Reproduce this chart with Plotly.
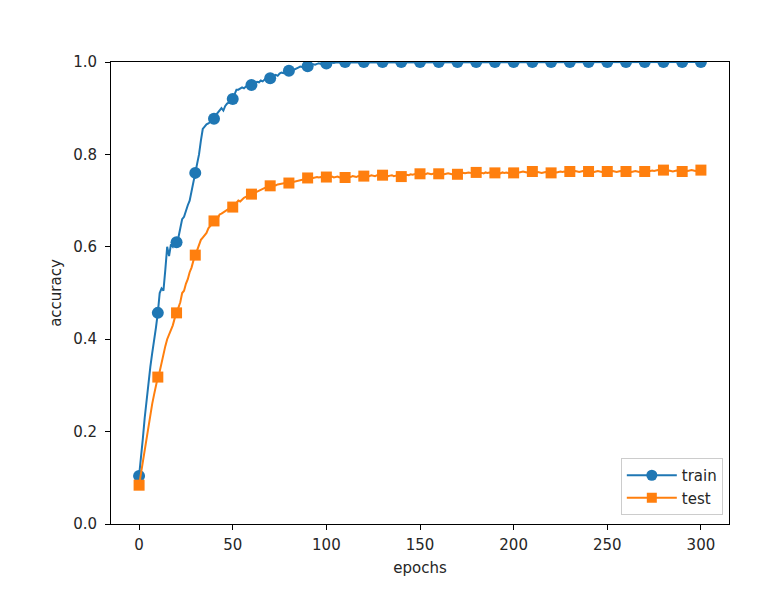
import plotly.graph_objects as go

# ---- data ----
train_acc = [
    0.104, 0.140, 0.185, 0.230, 0.270, 0.305, 0.340, 0.370, 0.395, 0.425,
    0.457, 0.500, 0.510, 0.505, 0.550, 0.600, 0.580, 0.605, 0.600, 0.610,
    0.610, 0.620, 0.640, 0.660, 0.665, 0.680, 0.690, 0.700, 0.720, 0.740,
    0.760, 0.780, 0.800, 0.830, 0.855, 0.860, 0.865, 0.867, 0.870, 0.872,
    0.877, 0.885, 0.890, 0.895, 0.900, 0.895, 0.905, 0.910, 0.912, 0.915,
    0.920, 0.930, 0.940, 0.940, 0.942, 0.945, 0.943, 0.947, 0.950, 0.948,
    0.950, 0.953, 0.955, 0.957, 0.956, 0.960, 0.958, 0.962, 0.963, 0.962,
    0.965, 0.968, 0.970, 0.972, 0.970, 0.975, 0.977, 0.976, 0.978, 0.980,
    0.981, 0.983, 0.985, 0.984, 0.987, 0.988, 0.990, 0.989, 0.990, 0.992,
    0.991, 0.993, 0.994, 0.995, 0.994, 0.996, 0.997, 0.996, 0.998, 0.997,
    0.997, 0.998, 0.998, 0.999, 0.998, 0.999, 0.999, 1.000, 0.999, 1.000,
    1.000, 1.000, 1.000, 1.000, 1.000, 1.000, 1.000, 1.000, 1.000, 1.000,
    1.000, 1.000, 1.000, 1.000, 1.000, 1.000, 1.000, 1.000, 1.000, 1.000,
    1.000, 1.000, 1.000, 1.000, 1.000, 1.000, 1.000, 1.000, 1.000, 1.000,
    1.000, 1.000, 1.000, 1.000, 1.000, 1.000, 1.000, 1.000, 1.000, 1.000,
    1.000, 1.000, 1.000, 1.000, 1.000, 1.000, 1.000, 1.000, 1.000, 1.000,
    1.000, 1.000, 1.000, 1.000, 1.000, 1.000, 1.000, 1.000, 1.000, 1.000,
    1.000, 1.000, 1.000, 1.000, 1.000, 1.000, 1.000, 1.000, 1.000, 1.000,
    1.000, 1.000, 1.000, 1.000, 1.000, 1.000, 1.000, 1.000, 1.000, 1.000,
    1.000, 1.000, 1.000, 1.000, 1.000, 1.000, 1.000, 1.000, 1.000, 1.000,
    1.000, 1.000, 1.000, 1.000, 1.000, 1.000, 1.000, 1.000, 1.000, 1.000,
    1.000, 1.000, 1.000, 1.000, 1.000, 1.000, 1.000, 1.000, 1.000, 1.000,
    1.000, 1.000, 1.000, 1.000, 1.000, 1.000, 1.000, 1.000, 1.000, 1.000,
    1.000, 1.000, 1.000, 1.000, 1.000, 1.000, 1.000, 1.000, 1.000, 1.000,
    1.000, 1.000, 1.000, 1.000, 1.000, 1.000, 1.000, 1.000, 1.000, 1.000,
    1.000, 1.000, 1.000, 1.000, 1.000, 1.000, 1.000, 1.000, 1.000, 1.000,
    1.000, 1.000, 1.000, 1.000, 1.000, 1.000, 1.000, 1.000, 1.000, 1.000,
    1.000, 1.000, 1.000, 1.000, 1.000, 1.000, 1.000, 1.000, 1.000, 1.000,
    1.000, 1.000, 1.000, 1.000, 1.000, 1.000, 1.000, 1.000, 1.000, 1.000,
    1.000, 1.000, 1.000, 1.000, 1.000, 1.000, 1.000, 1.000, 1.000, 1.000,
    1.000,
]

test_acc = [
    0.084, 0.110, 0.135, 0.160, 0.185, 0.210, 0.235, 0.260, 0.280, 0.300,
    0.318, 0.330, 0.350, 0.370, 0.385, 0.400, 0.410, 0.420, 0.430, 0.445,
    0.457, 0.470, 0.480, 0.500, 0.505, 0.520, 0.530, 0.545, 0.555, 0.570,
    0.582, 0.590, 0.605, 0.615, 0.620, 0.625, 0.630, 0.640, 0.645, 0.650,
    0.656, 0.660, 0.662, 0.670, 0.672, 0.675, 0.678, 0.680, 0.682, 0.684,
    0.686, 0.690, 0.695, 0.700, 0.698, 0.703, 0.706, 0.708, 0.710, 0.712,
    0.714, 0.716, 0.718, 0.720, 0.722, 0.724, 0.726, 0.727, 0.729, 0.730,
    0.732, 0.733, 0.734, 0.733, 0.735, 0.736, 0.736, 0.737, 0.738, 0.737,
    0.738, 0.740, 0.741, 0.742, 0.743, 0.744, 0.745, 0.746, 0.747, 0.748,
    0.749, 0.749, 0.750, 0.749, 0.750, 0.751, 0.750, 0.751, 0.750, 0.751,
    0.751, 0.752, 0.751, 0.752, 0.750, 0.751, 0.752, 0.750, 0.751, 0.752,
    0.750, 0.751, 0.752, 0.751, 0.753, 0.752, 0.751, 0.753, 0.752, 0.754,
    0.753, 0.752, 0.754, 0.753, 0.755, 0.754, 0.753, 0.755, 0.754, 0.756,
    0.755, 0.754, 0.755, 0.753, 0.754, 0.755, 0.753, 0.754, 0.755, 0.753,
    0.752, 0.754, 0.755, 0.756, 0.755, 0.757, 0.756, 0.757, 0.758, 0.757,
    0.758, 0.757, 0.758, 0.757, 0.759, 0.758, 0.757, 0.758, 0.759, 0.757,
    0.758, 0.759, 0.758, 0.757, 0.758, 0.759, 0.758, 0.757, 0.758, 0.759,
    0.757, 0.758, 0.759, 0.760, 0.759, 0.760, 0.761, 0.760, 0.759, 0.761,
    0.761, 0.760, 0.761, 0.760, 0.759, 0.761, 0.760, 0.761, 0.760, 0.761,
    0.760, 0.761, 0.760, 0.759, 0.761, 0.760, 0.761, 0.760, 0.759, 0.761,
    0.760, 0.761, 0.762, 0.761, 0.762, 0.763, 0.762, 0.761, 0.763, 0.762,
    0.763, 0.762, 0.761, 0.762, 0.761, 0.760, 0.761, 0.762, 0.761, 0.760,
    0.760, 0.761, 0.762, 0.761, 0.762, 0.763, 0.762, 0.763, 0.762, 0.764,
    0.763, 0.762, 0.763, 0.764, 0.763, 0.762, 0.763, 0.764, 0.763, 0.762,
    0.763, 0.764, 0.763, 0.762, 0.763, 0.764, 0.763, 0.762, 0.764, 0.763,
    0.763, 0.762, 0.763, 0.764, 0.763, 0.762, 0.763, 0.764, 0.763, 0.762,
    0.763, 0.764, 0.763, 0.762, 0.763, 0.764, 0.763, 0.762, 0.763, 0.764,
    0.763, 0.764, 0.765, 0.764, 0.765, 0.764, 0.765, 0.766, 0.765, 0.764,
    0.766, 0.765, 0.764, 0.765, 0.764, 0.763, 0.764, 0.765, 0.764, 0.763,
    0.763, 0.764, 0.765, 0.764, 0.765, 0.766, 0.765, 0.764, 0.765, 0.766,
    0.766,
]

epochs = list(range(len(train_acc)))
mark_every = 10
x_ticks = [0, 50, 100, 150, 200, 250, 300]
y_ticks = [0.0, 0.2, 0.4, 0.6, 0.8, 1.0]

BLUE = "#1f77b4"
ORANGE = "#ff7f0e"
FONT = "DejaVu Sans"
TXT = "#262626"
FS = 15

fig = go.Figure()

series = [
    ("train", train_acc, BLUE, "circle", 12),
    ("test", test_acc, ORANGE, "square", 11),
]
for name, vals, col, sym, size in series:
    fig.add_trace(go.Scatter(x=epochs, y=vals, mode="lines",
                             line=dict(color=col, width=2),
                             showlegend=False, hoverinfo="skip"))
    fig.add_trace(go.Scatter(x=epochs[::mark_every], y=vals[::mark_every],
                             mode="markers",
                             marker=dict(color=col, symbol=sym, size=size,
                                         line=dict(width=0)),
                             showlegend=False, cliponaxis=True))

for name, vals, col, sym, size in series:
    fig.add_trace(go.Scatter(x=[None], y=[None], mode="lines+markers", name=name,
                             line=dict(color=col, width=2),
                             marker=dict(color=col, symbol=sym, size=size - 1)))

axis_common = dict(showline=True, linecolor="black", linewidth=1, mirror=True,
                   ticks="outside", ticklen=5, tickwidth=1, tickcolor="black",
                   showgrid=False, zeroline=False,
                   tickfont=dict(family=FONT, size=FS, color=TXT))

fig.update_xaxes(range=[-15, 315], tickvals=x_ticks,
                 ticktext=[str(v) for v in x_ticks], ticklabelstandoff=2,
                 title=dict(text="epochs", font=dict(family=FONT, size=FS, color=TXT),
                            standoff=9),
                 **axis_common)
fig.update_yaxes(range=[0, 1], tickvals=y_ticks,
                 ticktext=[f"{v:.1f}" for v in y_ticks], ticklabelstandoff=5,
                 title=dict(text="accuracy", font=dict(family=FONT, size=FS, color=TXT),
                            standoff=7),
                 **axis_common)

fig.update_layout(
    width=779, height=608,
    margin=dict(l=111, r=50, t=62, b=84),
    plot_bgcolor="white", paper_bgcolor="white",
    font=dict(family=FONT, size=FS, color=TXT),
    legend=dict(x=0.990, y=0.0195, xanchor="right", yanchor="bottom",
                bgcolor="rgba(255,255,255,0.8)", bordercolor="#cccccc", borderwidth=1,
                font=dict(family=FONT, size=FS, color=TXT),
                itemwidth=50, tracegroupgap=4),
)

fig.write_html("out.html")
